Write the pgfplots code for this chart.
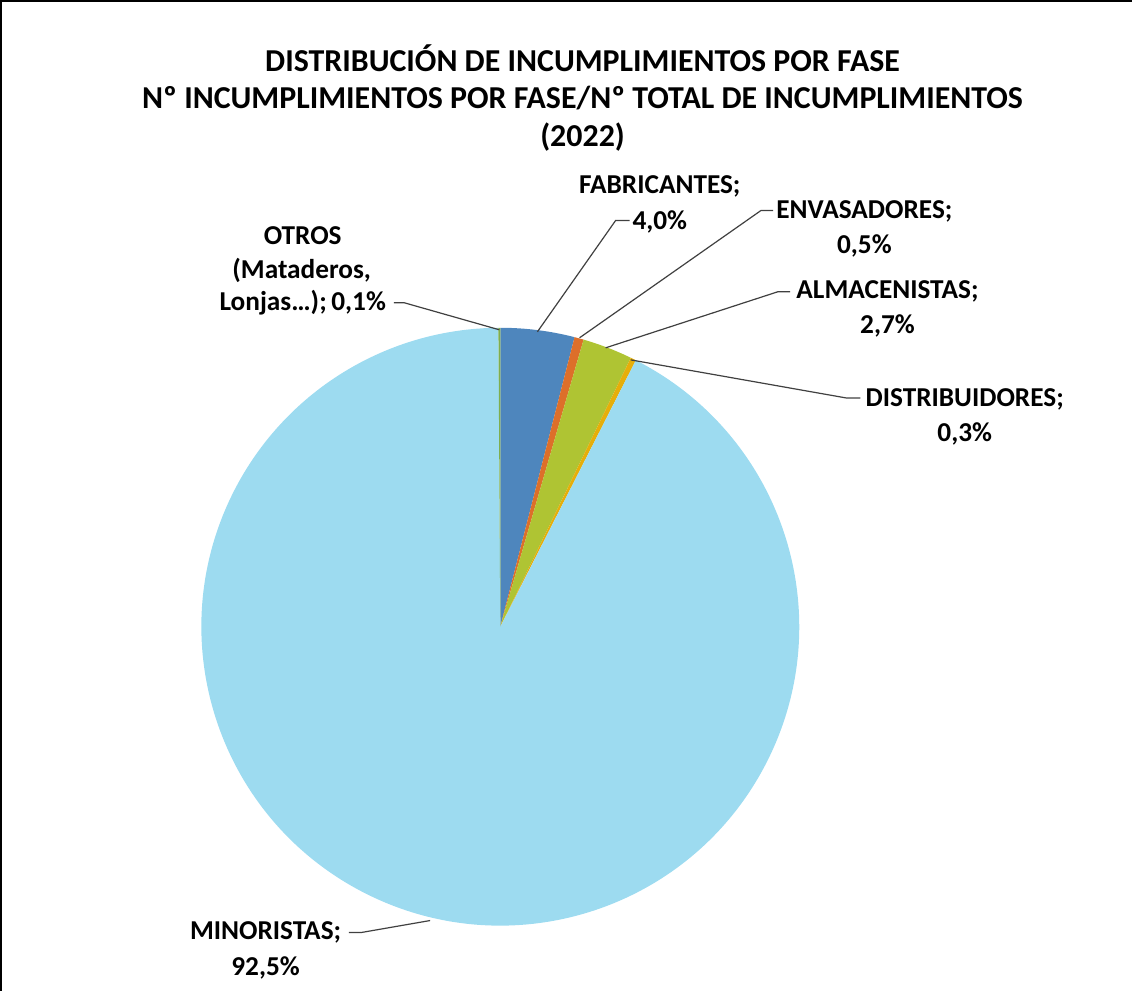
\documentclass[border=0pt]{standalone}
\usepackage{fontspec}
\setmainfont{Carlito}
\usepackage{pgfplots}
\pgfplotsset{compat=1.18}
\usepackage{pgfplotstable}

% slice colours, in table order
\definecolor{c0}{HTML}{4E86BD}
\definecolor{c1}{HTML}{DD6F2A}
\definecolor{c2}{HTML}{AFC433}
\definecolor{c3}{HTML}{E6AE0A}
\definecolor{c4}{HTML}{9DDBF0}
\definecolor{c5}{HTML}{7FAE4E}
\definecolor{leader}{HTML}{404040}

\pgfplotstableread{
fase valor
FABRICANTES 4.0
ENVASADORES 0.5
ALMACENISTAS 2.7
DISTRIBUIDORES 0.3
MINORISTAS 92.5
OTROS 0.1
}\datos

\newcommand\tit{\fontsize{15.9bp}{18bp}\selectfont\bfseries}
\newcommand\lab{\fontsize{13.6bp}{15bp}\selectfont\bfseries}

\begin{document}
\begin{tikzpicture}
\pgfmathsetmacro\total{0}
\pgfplotsforeachungrouped \i in {0,...,5}{%
  \pgfplotstablegetelem{\i}{valor}\of\datos
  \pgfmathsetmacro\total{\total+\pgfplotsretval}}
\begin{axis}[
  hide axis, scale only axis,
  width=566.5bp, height=495bp,
  xmin=0, xmax=1133, ymin=0, ymax=990,
  clip=false,
  every node/.append style={inner sep=0pt, anchor=base},
]
% pie, clockwise from 12 o'clock, centre (503,627) px, radius 298 px = 149bp
\def\ang{90}
\pgfplotsforeachungrouped \i in {0,...,5}{%
  \pgfplotstablegetelem{\i}{valor}\of\datos
  \pgfmathsetmacro\fin{\ang-\pgfplotsretval/\total*360}
  \pgfmathsetmacro\px{503+298*cos(\ang)}
  \pgfmathsetmacro\py{363+298*sin(\ang)}
  \edef\cmd{\noexpand\fill[c\i] (axis cs:503,363) -- (axis cs:\px,\py)
    arc[start angle=\ang, end angle=\fin, radius=149bp] -- cycle;}
  \cmd
  \global\let\ang\fin
}

% frame
\draw[black, line width=0.8bp] (axis cs:5,0) -- (axis cs:5,987) -- (axis cs:1133,987);

% title
\node[font=\tit] at (axis cs:585,930) {DISTRIBUCIÓN DE INCUMPLIMIENTOS POR FASE};
\node[font=\tit] at (axis cs:585,890) {Nº INCUMPLIMIENTOS POR FASE/Nº TOTAL DE INCUMPLIMIENTOS};
\node[font=\tit] at (axis cs:585,851) {(2022)};

% leader lines
\begin{scope}[draw=leader, line width=0.6bp]
\draw (axis cs:397,686) -- (axis cs:407,686) -- (axis cs:502,659);
\draw (axis cs:632,768) -- (axis cs:618,768) -- (axis cs:540,657);
\draw (axis cs:775,778) -- (axis cs:763,778) -- (axis cs:582,651);
\draw (axis cs:792,697) -- (axis cs:780,697) -- (axis cs:608,641);
\draw (axis cs:862,591) -- (axis cs:848,591) -- (axis cs:633,629);
\draw (axis cs:352,58) -- (axis cs:364,58) -- (axis cs:433,70);
\end{scope}

% data labels
\node[font=\lab] at (axis cs:662,802) {FABRICANTES;};
\node[font=\lab] at (axis cs:662,767) {4,0\%};
\node[font=\lab] at (axis cs:866,777) {ENVASADORES;};
\node[font=\lab] at (axis cs:866,743) {0,5\%};
\node[font=\lab] at (axis cs:889,697) {ALMACENISTAS;};
\node[font=\lab] at (axis cs:889,663) {2,7\%};
\node[font=\lab] at (axis cs:966,590) {DISTRIBUIDORES;};
\node[font=\lab] at (axis cs:966,555) {0,3\%};
\node[font=\lab] at (axis cs:306,753) {OTROS};
\node[font=\lab] at (axis cs:305,718) {(Mataderos,};
\node[font=\lab] at (axis cs:306,686) {Lonjas…);\,0,1\%};
\node[font=\lab] at (axis cs:269,58) {MINORISTAS;};
\node[font=\lab] at (axis cs:269,23) {92,5\%};
\end{axis}
\end{tikzpicture}
\end{document}
